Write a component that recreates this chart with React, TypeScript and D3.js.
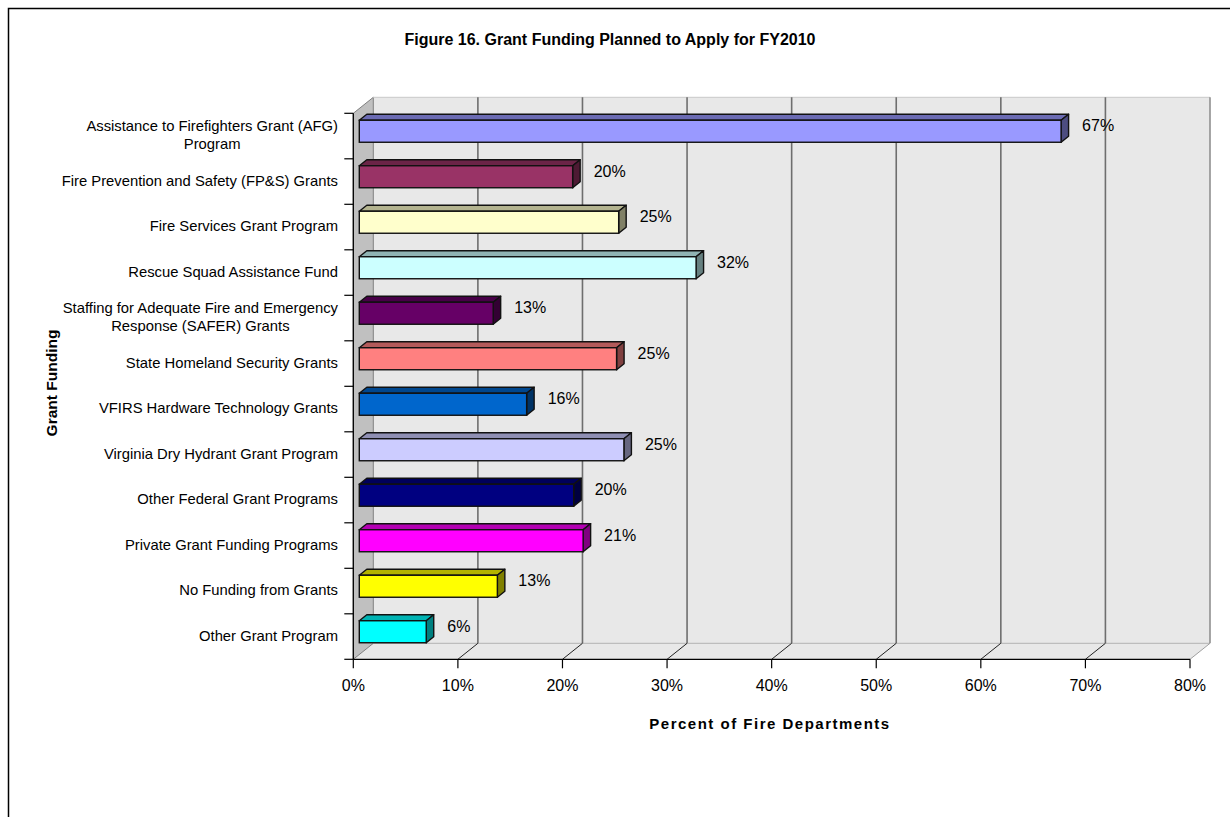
import React, { useEffect, useRef } from "react";
import * as d3 from "d3";

const categories: string[][] = [
  ["Assistance to Firefighters Grant (AFG)", "Program"],
  ["Fire Prevention and Safety (FP&S) Grants"],
  ["Fire Services Grant Program"],
  ["Rescue Squad Assistance Fund"],
  ["Staffing for Adequate Fire and Emergency", "Response (SAFER) Grants"],
  ["State Homeland Security Grants"],
  ["VFIRS Hardware Technology Grants"],
  ["Virginia Dry Hydrant Grant Program"],
  ["Other Federal Grant Programs"],
  ["Private Grant Funding Programs"],
  ["No Funding from Grants"],
  ["Other Grant Program"],
];
const values: number[] = [67.1, 20.4, 24.8, 32.2, 12.8, 24.6, 16.0, 25.3, 20.5, 21.4, 13.2, 6.4];
const valueLabels: string[] = ["67%", "20%", "25%", "32%", "13%", "25%", "16%", "25%", "20%", "21%", "13%", "6%"];
const colors: string[] = [
  "#9999FF", "#993366", "#FFFFCC", "#CCFFFF", "#660066", "#FF8080",
  "#0066CC", "#CCCCFF", "#000080", "#FF00FF", "#FFFF00", "#00FFFF",
];
const xTicks: number[] = [0, 10, 20, 30, 40, 50, 60, 70, 80];
const title = "Figure 16. Grant Funding Planned to Apply for FY2010";
const xTitle = "Percent of Fire Departments";
const yTitle = "Grant Funding";

const W = 1230;
const H = 817;

function scaleColor(c: string, f: number): string {
  const r = d3.rgb(c);
  return d3.rgb(r.r * f, r.g * f, r.b * f).formatHex();
}

export default function App() {
  const ref = useRef<SVGSVGElement | null>(null);

  useEffect(() => {
    const svg = d3.select(ref.current);
    svg.selectAll("*").remove();

    const font = "Arial, 'Liberation Sans', Helvetica, sans-serif";
    const x0 = 353.3;
    const x1 = 1190;
    const yTop = 113.3;
    const yBot = 659.3;
    const DX = 20;
    const DY = 16;

    const x = d3.scaleLinear().domain([0, 80]).range([x0, x1]);
    const y = d3
      .scaleBand<number>()
      .domain(d3.range(categories.length))
      .range([yTop, yBot])
      .paddingInner(0)
      .paddingOuter(0);

    const P = (v: number, d: number) => x(v) + d * DX;
    const Q = (yy: number, d: number) => yy - d * DY;

    // outer frame
    svg
      .append("rect")
      .attr("x", 8.5)
      .attr("y", 8.5)
      .attr("width", 1300)
      .attr("height", 1000)
      .attr("fill", "white")
      .attr("stroke", "#000")
      .attr("stroke-width", 1.5);

    // title
    svg
      .append("text")
      .attr("x", 610)
      .attr("y", 45)
      .attr("text-anchor", "middle")
      .attr("font-family", font)
      .attr("font-weight", "bold")
      .attr("font-size", 16)
      .text(title);

    // back wall
    svg
      .append("rect")
      .attr("x", P(0, 1))
      .attr("y", Q(yTop, 1))
      .attr("width", P(80, 1) - P(0, 1))
      .attr("height", yBot - yTop)
      .attr("fill", "#e8e8e8")
      .attr("stroke", "none");

    // floor
    svg
      .append("polygon")
      .attr(
        "points",
        [
          [P(0, 0), Q(yBot, 0)],
          [P(80, 0), Q(yBot, 0)],
          [P(80, 1), Q(yBot, 1)],
          [P(0, 1), Q(yBot, 1)],
        ]
          .map((p) => p.join(","))
          .join(" ")
      )
      .attr("fill", "#e8e8e8")
      .attr("stroke", "none");

    // side wall
    svg
      .append("polygon")
      .attr(
        "points",
        [
          [P(0, 0), Q(yTop, 0)],
          [P(0, 1), Q(yTop, 1)],
          [P(0, 1), Q(yBot, 1)],
          [P(0, 0), Q(yBot, 0)],
        ]
          .map((p) => p.join(","))
          .join(" ")
      )
      .attr("fill", "#c0c0c0")
      .attr("stroke", "#808080")
      .attr("stroke-width", 1);

    // wall top edge, floor back edge
    svg
      .append("line")
      .attr("x1", P(0, 1))
      .attr("x2", P(80, 1))
      .attr("y1", Q(yTop, 1))
      .attr("y2", Q(yTop, 1))
      .attr("stroke", "#c8c8c8")
      .attr("stroke-width", 1);
    svg
      .append("line")
      .attr("x1", P(0, 1))
      .attr("x2", P(80, 1))
      .attr("y1", Q(yBot, 1))
      .attr("y2", Q(yBot, 1))
      .attr("stroke", "#bdbdbd")
      .attr("stroke-width", 1.2);

    // gridlines on back wall + floor diagonals
    xTicks.slice(1).forEach((t) => {
      svg
        .append("line")
        .attr("x1", P(t, 1))
        .attr("x2", P(t, 1))
        .attr("y1", Q(yTop, 1))
        .attr("y2", Q(yBot, 1))
        .attr("stroke", t === 80 ? "#909090" : "#6e6e6e")
        .attr("stroke-width", 1.6);
      svg
        .append("line")
        .attr("x1", P(t, 1))
        .attr("x2", P(t, 0))
        .attr("y1", Q(yBot, 1))
        .attr("y2", Q(yBot, 0))
        .attr("stroke", t === 80 ? "#a0a0a0" : "#222")
        .attr("stroke-width", 1);
    });

    // axes
    svg
      .append("line")
      .attr("x1", x0)
      .attr("x2", x0)
      .attr("y1", yTop)
      .attr("y2", yBot)
      .attr("stroke", "#000")
      .attr("stroke-width", 1.3);
    svg
      .append("line")
      .attr("x1", x0)
      .attr("x2", x1)
      .attr("y1", yBot)
      .attr("y2", yBot)
      .attr("stroke", "#000")
      .attr("stroke-width", 1.3);

    // y ticks at band boundaries
    d3.range(categories.length + 1).forEach((i) => {
      const yy = yTop + i * y.step();
      svg
        .append("line")
        .attr("x1", x0 - 9)
        .attr("x2", x0)
        .attr("y1", yy)
        .attr("y2", yy)
        .attr("stroke", "#000")
        .attr("stroke-width", 1.2);
    });

    // x ticks + labels
    xTicks.forEach((t) => {
      svg
        .append("line")
        .attr("x1", x(t))
        .attr("x2", x(t))
        .attr("y1", yBot)
        .attr("y2", yBot + 9)
        .attr("stroke", "#000")
        .attr("stroke-width", 1.2);
      svg
        .append("text")
        .attr("x", x(t))
        .attr("y", 690.5)
        .attr("text-anchor", "middle")
        .attr("font-family", font)
        .attr("font-size", 16)
        .attr("fill", "#000")
        .text(`${t}%`);
    });

    // bars
    const dF = 0.3;
    const dB = 0.675;
    const hBar = 22;
    categories.forEach((_, i) => {
      const v = values[i];
      const c = colors[i];
      const yc = (y(i) as number) + y.bandwidth() / 2;
      const ytf = Q(yc, dF) - hBar / 2;
      const ybf = ytf + hBar;
      const ytb = Q(yc, dB) - hBar / 2;
      const ybb = ytb + hBar;
      const xl = P(0, dF);
      const xr = P(v, dF);
      const xlb = P(0, dB);
      const xrb = P(v, dB);
      const g = svg.append("g");
      const pts = (a: number[][]) => a.map((p) => p.join(",")).join(" ");
      g.append("polygon")
        .attr("points", pts([[xl, ytf], [xr, ytf], [xrb, ytb], [xlb, ytb]]))
        .attr("fill", scaleColor(c, 0.7))
        .attr("stroke", "#111")
        .attr("stroke-width", 1.4)
        .attr("stroke-linejoin", "round");
      g.append("polygon")
        .attr("points", pts([[xr, ytf], [xrb, ytb], [xrb, ybb], [xr, ybf]]))
        .attr("fill", scaleColor(c, 0.5))
        .attr("stroke", "#111")
        .attr("stroke-width", 1.4)
        .attr("stroke-linejoin", "round");
      g.append("rect")
        .attr("x", xl)
        .attr("y", ytf)
        .attr("width", xr - xl)
        .attr("height", hBar)
        .attr("fill", c)
        .attr("stroke", "#111")
        .attr("stroke-width", 1.4);

      // value label
      svg
        .append("text")
        .attr("x", xr + 21)
        .attr("y", yc - 10.5)
        .attr("dy", "0.35em")
        .attr("font-family", font)
        .attr("font-size", 16)
        .attr("fill", "#000")
        .text(valueLabels[i]);

      // category label
      const lines = categories[i];
      const right = 338;
      const fs = 14.8;
      if (lines.length === 1) {
        svg
          .append("text")
          .attr("x", right)
          .attr("y", yc - 0.8)
          .attr("dy", "0.35em")
          .attr("text-anchor", "end")
          .attr("font-family", font)
          .attr("font-size", fs)
          .attr("fill", "#000")
          .text(lines[0]);
      } else {
        const tg = svg.append("g");
        const texts = lines.map((ln, k) =>
          tg
            .append("text")
            .attr("y", yc - 10 + k * 18)
            .attr("dy", "0.35em")
            .attr("text-anchor", "middle")
            .attr("font-family", font)
            .attr("font-size", fs)
            .attr("fill", "#000")
            .text(ln)
        );
        let maxW = 0;
        texts.forEach((t) => {
          const n = t.node() as SVGTextElement;
          maxW = Math.max(maxW, n.getComputedTextLength());
        });
        texts.forEach((t) => t.attr("x", right - maxW / 2));
      }
    });

    // axis titles
    svg
      .append("text")
      .attr("x", 770)
      .attr("y", 729)
      .attr("text-anchor", "middle")
      .attr("font-family", font)
      .attr("font-weight", "bold")
      .attr("font-size", 15)
      .attr("letter-spacing", 1.5)
      .text(xTitle);
    svg
      .append("text")
      .attr("transform", "translate(57,383) rotate(-90)")
      .attr("text-anchor", "middle")
      .attr("font-family", font)
      .attr("font-weight", "bold")
      .attr("font-size", 15.5)
      .text(yTitle);
  }, []);

  return (
    <svg
      ref={ref}
      width={W}
      height={H}
      style={{ position: "absolute", left: 0, top: 0, background: "#fff" }}
    />
  );
}
